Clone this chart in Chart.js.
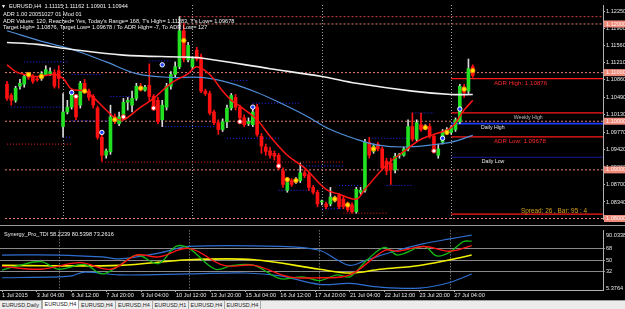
<!DOCTYPE html>
<html>
<head>
<meta charset="utf-8">
<script src="https://cdn.jsdelivr.net/npm/chart.js@4.4.0/dist/chart.umd.min.js"></script>
<style>
    html, body { margin: 0; padding: 0; background: #000; width: 625px; height: 309px; overflow: hidden; }
    #mainWrap { position: absolute; left: 0; top: 0; width: 625px; height: 224px; }
    #tdiWrap { position: absolute; left: 0; top: 225px; width: 625px; height: 75px; border-top: 1px solid #9a9a9a; }
    #tabs { position: absolute; left: 0; top: 300px; width: 625px; height: 9px; background: #ececec; border-top: 1px solid #a0a0a0; box-sizing: border-box; }
    .tab { position: absolute; top: 0; height: 8px; font: 5.5px "Liberation Sans", Arial, sans-serif; color: #222; text-align: center; line-height: 8px; border-right: 1px solid #a8a8a8; box-sizing: border-box; }
    .tab.active { background: #fff; top: -1px; height: 9px; border-left: 1px solid #a8a8a8; }
</style>
</head>
<body>
<div id="mainWrap"><canvas id="mainChart" width="625" height="224"></canvas></div>
<div id="tdiWrap"><canvas id="tdiChart" width="625" height="75"></canvas></div>
<div id="tabs">
    <div class="tab" style="left:0;width:42px">EURUSD,Daily</div>
    <div class="tab active" style="left:42px;width:37px">EURUSD,H4</div>
    <div class="tab" style="left:79px;width:37px">EURUSD,H4</div>
    <div class="tab" style="left:116px;width:37px">EURUSD,H4</div>
    <div class="tab" style="left:153px;width:36px">EURUSD,H1</div>
    <div class="tab" style="left:189px;width:36px">EURUSD,H4</div>
    <div class="tab" style="left:225px;width:36px">EURUSD,H4</div>
</div>
<script>
// EURUSD H4 candles, 1 Jul 20:00 .. 27 Jul 20:00
const opens = [1.1076,1.1053,1.1043,1.1072,1.1076,1.1094,1.1092,1.1086,1.1088,1.1096,
    1.1098,1.1100,1.1104,1.0989,1.1019,1.1029,1.1049,1.1033,1.1078,1.1062,
    1.1051,1.1027,1.0967,1.0930,1.0937,1.1009,1.0995,1.1007,1.1039,1.1033,
    1.1047,1.1072,1.1064,1.1074,1.1051,1.1043,1.1003,1.1029,1.1072,1.1096,
    1.1112,1.1186,1.1126,1.1112,1.1146,1.1132,1.1062,1.1057,1.1019,1.0997,
    1.0983,1.0999,1.1027,1.1049,1.1029,1.1007,1.0995,1.0993,1.1029,1.0969,
    1.0947,1.0939,1.0934,1.0930,1.0898,1.0858,1.0878,1.0876,1.0878,1.0894,
    1.0890,1.0864,1.0854,1.0834,1.0830,1.0830,1.0838,1.0848,1.0840,1.0830,
    1.0828,1.0814,1.0854,1.0858,1.0957,1.0938,1.0953,1.0943,1.0918,1.0914,
    1.0900,1.0930,1.0930,1.0943,1.0989,1.0963,1.0993,1.0987,1.0989,1.0969,
    1.0930,1.0957,1.0977,1.0977,1.0983,1.0999,1.1070,1.1062,1.1112];
const highs = [1.1082,1.1057,1.1072,1.1086,1.1096,1.1098,1.1096,1.1090,1.1102,1.1114,
    1.1110,1.1106,1.1114,1.1057,1.1043,1.1066,1.1055,1.1082,1.1086,1.1066,
    1.1055,1.1031,1.0971,1.0943,1.1033,1.1015,1.1019,1.1047,1.1049,1.1062,
    1.1078,1.1078,1.1074,1.1118,1.1055,1.1049,1.1043,1.1078,1.1102,1.1122,
    1.1215,1.1201,1.1162,1.1132,1.1152,1.1138,1.1066,1.1062,1.1023,1.1003,
    1.1005,1.1033,1.1057,1.1055,1.1033,1.1013,1.1007,1.1029,1.1035,1.0975,
    1.0953,1.0947,1.0939,1.0934,1.0904,1.0884,1.0882,1.0884,1.0914,1.0900,
    1.0894,1.0868,1.0858,1.0838,1.0834,1.0864,1.0846,1.0852,1.0846,1.0834,
    1.0832,1.0864,1.0864,1.0963,1.0967,1.0953,1.0957,1.0947,1.0924,1.0924,
    1.0934,1.0934,1.0947,1.1003,1.1017,1.1003,1.1017,1.0993,1.0995,1.0973,
    1.0953,1.0983,1.0987,1.0991,1.1007,1.1076,1.1076,1.1128,1.1116];
const lows = [1.1043,1.1033,1.1039,1.1066,1.1070,1.1086,1.1078,1.1082,1.1084,1.1094,
    1.1094,1.1068,1.1068,1.0967,1.1015,1.1025,1.1003,1.1027,1.1059,1.1043,
    1.1027,1.0963,1.0918,1.0924,1.0932,1.0995,1.0991,1.1003,1.1023,1.1019,
    1.1043,1.1062,1.1062,1.1043,1.1023,1.0995,1.0989,1.1023,1.1066,1.1090,
    1.1108,1.1122,1.1122,1.1106,1.1124,1.1059,1.1053,1.1013,1.0993,1.0973,
    1.0979,1.0987,1.1023,1.1023,1.1003,1.0989,1.0991,1.0989,1.0969,1.0934,
    1.0930,1.0924,1.0920,1.0900,1.0864,1.0854,1.0866,1.0872,1.0874,1.0884,
    1.0858,1.0850,1.0824,1.0828,1.0820,1.0826,1.0834,1.0820,1.0820,1.0814,
    1.0811,1.0811,1.0850,1.0854,1.0924,1.0934,1.0939,1.0900,1.0890,1.0870,
    1.0894,1.0924,1.0928,1.0939,1.0959,1.0959,1.0979,1.0983,1.0965,1.0939,
    1.0924,1.0953,1.0973,1.0973,1.0979,1.0995,1.1049,1.1057,1.1090];
const closes = [1.1047,1.1043,1.1068,1.1078,1.1092,1.1090,1.1082,1.1085,1.1098,1.1106,
    1.1102,1.1072,1.1088,1.1019,1.1029,1.1059,1.1009,1.1078,1.1066,1.1049,
    1.1033,1.0967,1.0930,1.0939,1.1009,1.1001,1.1009,1.1039,1.1043,1.1047,
    1.1072,1.1064,1.1070,1.1051,1.1029,1.0999,1.1033,1.1072,1.1096,1.1112,
    1.1186,1.1128,1.1156,1.1128,1.1128,1.1062,1.1057,1.1017,1.0997,1.0983,
    1.0999,1.1027,1.1053,1.1029,1.1007,1.0993,1.0999,1.1019,1.0973,1.0949,
    1.0938,1.0930,1.0928,1.0904,1.0870,1.0874,1.0870,1.0880,1.0894,1.0888,
    1.0864,1.0854,1.0830,1.0835,1.0824,1.0844,1.0842,1.0824,1.0824,1.0818,
    1.0814,1.0860,1.0858,1.0957,1.0930,1.0949,1.0943,1.0904,1.0898,1.0900,
    1.0928,1.0931,1.0943,1.0989,1.0963,1.0997,1.0983,1.0989,1.0969,1.0943,
    1.0943,1.0977,1.0983,1.0987,1.1003,1.1072,1.1059,1.1108,1.1094];

// moving averages: [bar, price]
const maWhite = [[0,1.1162],[7,1.1158],[13,1.1150],[27,1.1136],[41,1.1132],[45,1.1130],[61,1.1108],[73,1.1092],[81,1.1078],[94,1.1062],[103,1.1055],[108,1.1055]];
const maBlue = [[0,1.1186],[9,1.1162],[15,1.1148],[23,1.1122],[30,1.1098],[38,1.1090],[45,1.1090],[52,1.1078],[58,1.1059],[64,1.1035],[69,1.1013],[75,1.0983],[81,1.0963],[86,1.0951],[92,1.0947],[98,1.0951],[103,1.0957],[108,1.0971]];
const maRed = [[0,1.1116],[2,1.1102],[4,1.1096],[7,1.1092],[11,1.1096],[13,1.1088],[15,1.1066],[18,1.1062],[20,1.1049],[23,1.1023],[25,1.1007],[27,1.1003],[31,1.1029],[34,1.1047],[38,1.1078],[42,1.1098],[44,1.1112],[47,1.1096],[50,1.1062],[52,1.1043],[54,1.1031],[58,1.1003],[61,1.0969],[65,1.0930],[69,1.0904],[74,1.0860],[77,1.0850],[81,1.0840],[83,1.0860],[88,1.0910],[92,1.0938],[96,1.0963],[99,1.0973],[103,1.0987],[106,1.1023],[108,1.1043]];

// signal markers [bar, price]
const yellowMarks = [[5,1.1096],[8,1.1092],[18,1.1062],[25,1.1003],[31,1.1068],[41,1.1166],[65,1.0880],[67,1.0878],[76,1.0840],[79,1.0828],[85,1.0943],[97,1.0987],[102,1.0977],[106,1.1066],[108,1.1104]];
const redMarks = [[16,1.1051],[27,1.1009],[34,1.1027],[54,1.0999],[63,1.0908],[99,1.0939]];
const blueMarks = [[15,1.1059],[22,1.0977],[36,1.1116],[57,1.1029],[101,1.0965],[105,1.1025]];

// levels
const roundLevels = [1.12, 1.11, 1.10, 1.09, 1.08];
const topLevel = [40, 1.1215];
const sideLevelNames = ['ADR High: 1.10876', 'Weekly High', 'Daily High', 'ADR Low: 1.09678', 'Daily Low', ''];
const sideLevelPrices = [1.10876, 1.1017, 1.0995, 1.09678, 1.0926, 1.0809];
const sideLevelTextBars = [112.9, 117.5, 109.9, 112.9, 110.1, 0];
// short daily range lines [fromBar, toBar, price]
const blueRanges = [[4,14,1.1122],[1,13,1.1029],[15,22,1.1096],[24,29,1.1051],[15,24,1.1001],[13,15,1.0967],[33,38,1.1124],[36,48,1.0989],[52,56,1.1084],[57,68,1.1037],[51,63,1.0965],[68,78,1.0908],[63,71,1.0858],[77,82,1.0868],[84,94,1.0965],[88,94,1.0868],[73,78,1.0820],[94,99,1.1017]];
const redRanges = [[0,15,1.0953],[22,78,1.0916],[78,88,1.0811]];

const priceTicks = [1.1225, 1.119, 1.1156, 1.1121, 1.1086, 1.1049, 1.1013, 1.0977, 1.0942, 1.0906, 1.087, 1.0834];
const weekStartBars = [13, 43, 73, 103];
const timeLabels = ['1 Jul 2015', '3 Jul 04:00', '6 Jul 12:00', '7 Jul 20:00', '9 Jul 04:00', '10 Jul 12:00', '13 Jul 20:00', '15 Jul 04:00', '16 Jul 12:00', '17 Jul 20:00', '21 Jul 04:00', '22 Jul 12:00', '23 Jul 20:00', '27 Jul 04:00'];
const timeLabelBars = [0, 8, 16, 24, 32, 40, 48, 56, 64, 72, 80, 88, 96, 104];

// Synergy_Pro_TDI [bar, value]
const tdiUpper = [[0,58.2],[13,58.2],[23,55.2],[27,52.2],[36,61.3],[43,71.9],[64,71.9],[73,65.8],[77,50.7],[80,41.6],[84,50.7],[91,65.8],[97,76.4],[103,84.0],[108,90.0338]];
const tdiLower = [[0,21.9],[13,23.4],[16,24.9],[19,31.0],[27,26.4],[43,28.0],[56,29.5],[64,24.9],[73,11.3],[80,12.8],[87,6.8],[96,5.3764],[103,14.4],[108,28.0]];
const tdiBase = [[0,41.6],[27,41.6],[43,50.7],[58,50.7],[73,35.5],[80,29.5],[87,35.5],[96,41.6],[103,50.7],[108,58.2239]];
const tdiSignal = [[0,40.1],[9,35.5],[18,46.1],[25,35.5],[31,58.2],[36,55.2],[43,68.8],[51,41.6],[58,41.6],[66,23.4],[73,21.9],[80,26.4],[88,65.8],[91,64.3],[97,71.9],[103,64.3],[108,73.2616]];
const tdiPrice = [[0,34.0],[4,41.6],[9,47.7],[13,35.5],[19,43.1],[23,28.0],[27,41.6],[31,58.2],[36,44.6],[40,71.9],[43,68.8],[49,35.5],[53,41.6],[58,41.6],[64,20.4],[69,23.4],[73,17.4],[77,26.4],[80,23.4],[84,50.7],[88,70.4],[91,58.2],[97,71.9],[100,56.7],[103,62.8],[106,79.4],[108,80.5398]];
const tdiTicks = [5.3764, 32, 50, 68, 90.0338];
const tdiGridLevels = [32, 50, 68];

const headerLines = [
    'EURUSD,H4  1.11115 1.11162 1.10901 1.10944',
    'ADR 1.00 20051027 01 Mod 01',
    "ADR Values: 120, Reached= Yes, Today's Range= 168, T's High= 1.11283, T's Low= 1.09678",
    'Target High= 1.10876, Target Low= 1.09678 / To ADR High= -7, To ADR Low= 127'
];
const tdiTitle = 'Synergy_Pro_TDI 58.2239 80.5398 73.2616';
const spreadText = 'Spread: 26 , Bar: 95 : 4';

const X_MIN = -0.46, X_MAX = 138.2;
const FONT = '"Liberation Sans", Arial, sans-serif';

const toPts = arr => arr.map(([x, y]) => ({ x, y }));
const seg = (a, b, p) => [{ x: a, y: p }, { x: b, y: p }];
const bull = closes.map((c, i) => c >= opens[i]);

function lineDs(data, color, width, dash, order) {
    return { type: 'line', data, borderColor: color, borderWidth: width, borderDash: dash || [], pointRadius: 0, tension: 0.35, order: order };
}
function levelDs(data, color, width, dash) {
    return { type: 'line', data, borderColor: color, borderWidth: width, borderDash: dash || [], pointRadius: 0, tension: 0, order: 20 };
}
function markDs(data, fill, border) {
    return { type: 'line', data: toPts(data), showLine: false, pointRadius: 2.2, pointBackgroundColor: fill, pointBorderColor: border, pointBorderWidth: 1, order: 0 };
}

const sideColors = ['#ff1a1a', '#ff1a1a', '#1e3cff', '#ff1a1a', '#1a1a9a', '#ff1a1a'];
const sideTextColors = ['#ff2a2a', '#bdbdbd', '#e8e8e8', '#ff2a2a', '#e8e8e8', '#ff2a2a'];

const datasets = [];
roundLevels.forEach(p => datasets.push(levelDs(seg(p === 1.12 ? 40 : X_MIN, X_MAX, p), '#e08070', 1, [2, 2])));
datasets.push(levelDs(seg(topLevel[0], X_MAX, topLevel[1]), '#d04040', 1, [2, 2]));
blueRanges.forEach(([a, b, p]) => datasets.push(levelDs(seg(a, b, p), '#2a2aff', 1, [1, 2])));
redRanges.forEach(([a, b, p]) => datasets.push(levelDs(seg(a, b, p), '#e02020', 1, [1, 2])));
sideLevelPrices.forEach((p, k) => datasets.push(levelDs(seg(103, X_MAX, p), sideColors[k], k === 2 ? 1.6 : 1.2)));

datasets.push({
    type: 'bar', order: 6, grouped: false, barThickness: 1,
    data: lows.map((l, i) => ({ x: i, y: [l, highs[i]] })),
    backgroundColor: closes.map((c, i) => bull[i] ? '#d8d8d8' : '#ff1010')
});
datasets.push({
    type: 'bar', order: 5, grouped: false, barThickness: 3, minBarLength: 1,
    data: opens.map((o, i) => ({ x: i, y: [o, closes[i]] })),
    backgroundColor: closes.map((c, i) => c === opens[i] ? '#c0c0c0' : (bull[i] ? '#22e022' : '#ff1010'))
});
datasets.push(lineDs(toPts(maWhite), '#f0f0f0', 1.6, [], 3));
datasets.push(lineDs(toPts(maBlue), '#4f8fd8', 1.2, [], 3));
datasets.push(lineDs(toPts(maRed), '#ff1414', 1.5, [], 2));
datasets.push(markDs(yellowMarks, '#ffe600', '#ff8c00'));
datasets.push(markDs(redMarks, '#ffffff', '#ff2020'));
datasets.push(markDs(blueMarks, '#2040ff', '#ffffff'));

function drawSeparators(chart) {
    const { ctx, chartArea, scales: { x } } = chart;
    ctx.save();
    ctx.strokeStyle = '#a0a0a0';
    ctx.lineWidth = 1;
    ctx.setLineDash([1, 2]);
    weekStartBars.forEach(b => {
        const px = Math.round(x.getPixelForValue(b)) + 0.5;
        ctx.beginPath();
        ctx.moveTo(px, chartArea.top);
        ctx.lineTo(px, chartArea.bottom);
        ctx.stroke();
    });
    ctx.restore();
}

const mainDecor = {
    id: 'mainDecor',
    beforeDatasetsDraw(chart) { drawSeparators(chart); },
    afterDraw(chart) {
        const { ctx, scales: { x, y }, chartArea } = chart;
        ctx.save();
        // header text
        ctx.fillStyle = '#f0f0f0';
        ctx.font = '5.6px ' + FONT;
        ctx.textBaseline = 'middle';
        ctx.fillText('\u25BE', 2, 6);
        ctx.fillText(headerLines[0], 9, 6);
        ctx.fillText(headerLines[1], 3, 14);
        ctx.fillText(headerLines[2], 3, 21);
        ctx.fillText(headerLines[3], 3, 27.5);
        // level labels
        ctx.textBaseline = 'top';
        sideLevelNames.forEach((name, k) => {
            if (!name) return;
            ctx.fillStyle = sideTextColors[k];
            ctx.font = (k === 0 || k === 3 ? '6.2px ' : '5.2px ') + FONT;
            ctx.fillText(name, x.getPixelForValue(sideLevelTextBars[k]), y.getPixelForValue(sideLevelPrices[k]) + 1.5);
        });
        ctx.fillStyle = '#d4a017';
        ctx.font = '6.4px ' + FONT;
        ctx.textBaseline = 'bottom';
        ctx.fillText(spreadText, 521, y.getPixelForValue(sideLevelPrices[5]) + 0.5);
        // round price boxes on the axis
        ctx.textBaseline = 'middle';
        ctx.font = '5.6px ' + FONT;
        roundLevels.forEach(p => {
            const py = y.getPixelForValue(p);
            ctx.fillStyle = '#f08a7a';
            ctx.fillRect(chartArea.right + 1, py - 3.5, 21, 7);
            ctx.fillStyle = '#fff4f0';
            ctx.fillText(p.toFixed(5), chartArea.right + 3, py);
        });
        ctx.restore();
    }
};

new Chart(document.getElementById('mainChart'), {
    type: 'bar',
    data: { datasets },
    options: {
        responsive: false,
        animation: false,
        devicePixelRatio: 1,
        layout: { padding: { top: 1, bottom: 1, left: 0, right: 0 } },
        plugins: { legend: { display: false }, tooltip: { enabled: false } },
        scales: {
            x: { type: 'linear', min: X_MIN, max: X_MAX, offset: false, display: false },
            y: {
                position: 'right', min: 1.0799, max: 1.1239,
                afterBuildTicks: s => { s.ticks = priceTicks.map(v => ({ value: v })); },
                afterFit: s => { s.width = 22; },
                border: { display: true, color: '#b0b0b0' },
                grid: { display: true, drawOnChartArea: false, drawTicks: true, tickLength: 2, color: '#b0b0b0' },
                ticks: { color: '#e6e6e6', font: { size: 5.6, family: FONT }, padding: 1, callback: v => v.toFixed(5) }
            }
        }
    },
    plugins: [mainDecor]
});

const tdiDecor = {
    id: 'tdiDecor',
    beforeDatasetsDraw(chart) { drawSeparators(chart); },
    afterDraw(chart) {
        const { ctx } = chart;
        ctx.save();
        ctx.fillStyle = '#f0f0f0';
        ctx.font = '5.6px ' + FONT;
        ctx.textBaseline = 'middle';
        ctx.fillText(tdiTitle, 4, 8);
        ctx.restore();
    }
};

new Chart(document.getElementById('tdiChart'), {
    type: 'line',
    data: {
        datasets: [
            lineDs(toPts(tdiUpper), '#2f6fd0', 1.2, [], 5),
            lineDs(toPts(tdiLower), '#2f6fd0', 1.2, [], 5),
            lineDs(toPts(tdiBase), '#f0f000', 1.6, [], 4),
            lineDs(toPts(tdiPrice), '#14b814', 1.3, [], 3),
            lineDs(toPts(tdiSignal), '#ff1414', 1.4, [], 2)
        ]
    },
    options: {
        responsive: false,
        animation: false,
        devicePixelRatio: 1,
        layout: { padding: { top: 1, bottom: 0, left: 0, right: 0 } },
        plugins: { legend: { display: false }, tooltip: { enabled: false } },
        scales: {
            x: {
                type: 'linear', min: X_MIN, max: X_MAX, offset: false,
                afterBuildTicks: s => { s.ticks = timeLabelBars.map(v => ({ value: v })); },
                afterFit: s => { s.height = 11; },
                border: { display: true, color: '#b0b0b0' },
                grid: { display: true, drawOnChartArea: false, drawTicks: true, tickLength: 2, color: '#b0b0b0' },
                ticks: { color: '#e6e6e6', font: { size: 5.6, family: FONT }, padding: 0, align: 'start', autoSkip: false, maxRotation: 0, callback: (v, idx) => timeLabels[idx] }
            },
            y: {
                position: 'right', min: 2.35, max: 97.6,
                afterBuildTicks: s => { s.ticks = tdiTicks.map(v => ({ value: v })); },
                afterFit: s => { s.width = 22; },
                border: { display: true, color: '#b0b0b0' },
                grid: {
                    display: true, drawTicks: true, tickLength: 2,
                    color: c => (c.tick && tdiGridLevels.includes(c.tick.value)) ? '#8a8a8a' : 'rgba(0,0,0,0)',
                    borderDash: [1, 2]
                },
                ticks: { color: '#e6e6e6', font: { size: 5.6, family: FONT }, padding: 1, callback: v => String(v) }
            }
        }
    },
    plugins: [tdiDecor]
});
</script>
</body>
</html>
